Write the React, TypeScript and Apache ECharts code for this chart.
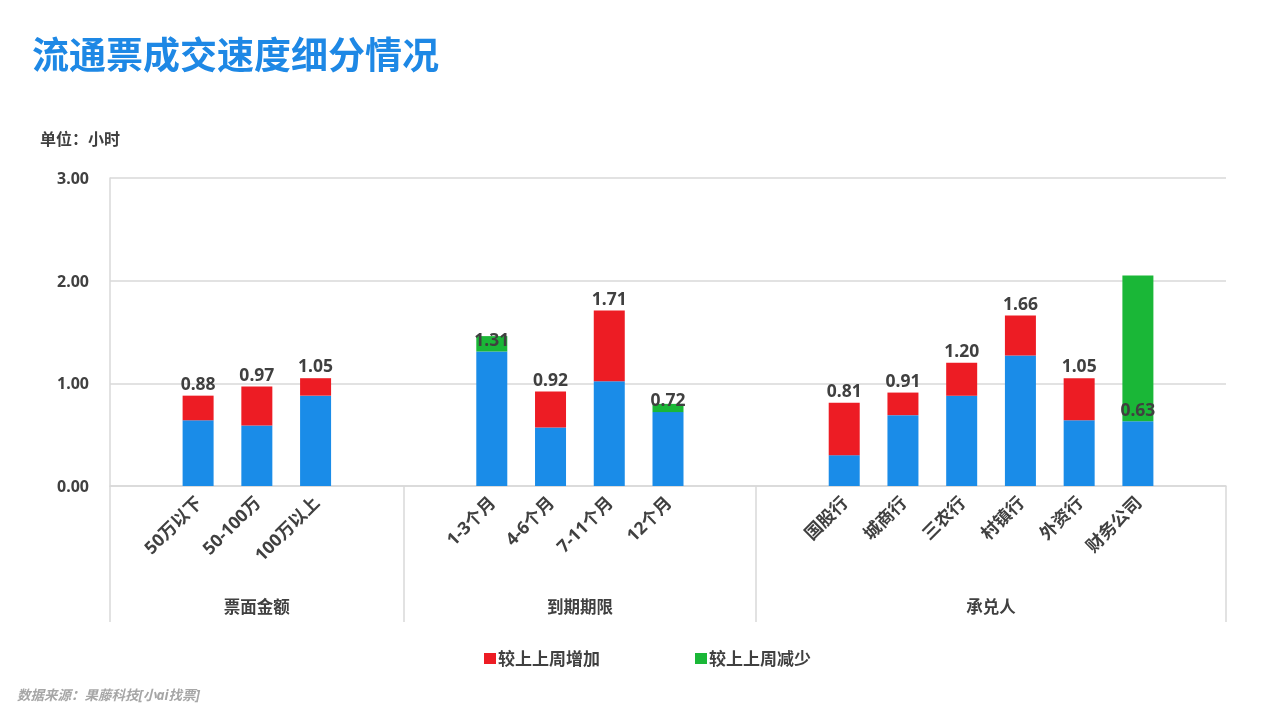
import React, { useEffect, useRef } from "react";
import * as echarts from "echarts";

const groupNames = ["票面金额", "到期期限", "承兑人"];
const amountCats = ["50万以下", "50-100万", "100万以上"];
const termCats = ["1-3个月", "4-6个月", "7-11个月", "12个月"];
const acceptorCats = ["国股行", "城商行", "三农行", "村镇行", "外资行", "财务公司"];

// base (blue) part, increase (red), decrease (green), current value (label)
const baseValues = [0.64, 0.59, 0.88, 1.31, 0.57, 1.02, 0.72, 0.3, 0.69, 0.88, 1.27, 0.64, 0.63];
const increaseValues = [0.24, 0.38, 0.17, null, 0.35, 0.69, null, 0.51, 0.22, 0.32, 0.39, 0.41, null];
const decreaseValues = [null, null, null, 0.15, null, null, 0.08, null, null, null, null, null, 1.42];
const currentValues = [0.88, 0.97, 1.05, 1.31, 0.92, 1.71, 0.72, 0.81, 0.91, 1.2, 1.66, 1.05, 0.63];

const yMin = 0;
const yMax = 3;
const yInterval = 1;

const BLUE = "#1A8CE8";
const RED = "#ED1C24";
const GREEN = "#1AB737";
const TEXT = "#404040";
const LINE = "#D9D9D9";
const FONT = "'Noto Sans', 'Noto Sans CJK SC', sans-serif";

function pad(groups: string[][]) {
  const cats: string[] = [];
  const idx: number[] = [];
  const bounds: number[] = [0];
  let k = 0;
  groups.forEach((g) => {
    cats.push("");
    idx.push(-1);
    g.forEach((c) => {
      cats.push(c);
      idx.push(k++);
    });
    cats.push("");
    idx.push(-1);
    bounds.push(cats.length);
  });
  return { cats, idx, bounds };
}

export default function App() {
  const ref = useRef<HTMLDivElement>(null);
  useEffect(() => {
    if (!ref.current) return;
    const chart = echarts.init(ref.current, null, { renderer: "svg" });
    const { cats, idx, bounds } = pad([amountCats, termCats, acceptorCats]);
    const map = (arr: (number | null)[]) => idx.map((i) => (i < 0 ? null : arr[i]));
    const centers = groupNames.map((_, g) => (bounds[g] + bounds[g + 1]) / 2);
    const barW = 31;

    chart.setOption({
      animation: false,
      textStyle: { fontFamily: FONT },
      title: {
        text: "流通票成交速度细分情况",
        left: 27,
        top: 31,
        textStyle: { color: "#1E88E5", fontSize: 37, fontWeight: "bold", fontFamily: FONT },
      },
      graphic: [
        {
          type: "text",
          left: 40,
          top: 131,
          style: { text: "单位：小时", fill: TEXT, font: `bold 16px ${FONT}` },
        },
        {
          type: "text",
          left: 17,
          top: 688,
          style: { text: "数据来源：果藤科技[小ai找票]", fill: "#A6A6A6", font: `italic bold 13.5px ${FONT}` },
        },
      ],
      legend: {
        data: ["较上上周增加", "较上上周减少"],
        left: 479,
        top: 645,
        icon: "rect",
        itemWidth: 12,
        itemHeight: 11,
        itemGap: 95,
        textStyle: { color: TEXT, fontSize: 17, fontWeight: "bold", fontFamily: FONT, padding: [0, 0, 0, -3] },
      },
      grid: { left: 110, right: 54, top: 178, bottom: 234, containLabel: false },
      xAxis: [
        {
          type: "category",
          data: cats,
          position: "bottom",
          axisLine: { show: true, lineStyle: { color: LINE, width: 1.5 } },
          axisTick: { show: false },
          axisLabel: {
            interval: 0,
            rotate: 45,
            margin: 13,
            color: TEXT,
            fontSize: 17.5,
            fontWeight: "bold",
            fontFamily: FONT,
          },
        },
        {
          type: "value",
          min: 0,
          max: cats.length,
          position: "bottom",
          axisLine: { show: false },
          splitLine: { show: false },
          axisTick: {
            show: true,
            customValues: bounds,
            length: 136,
            lineStyle: { color: LINE, width: 1.5 },
          },
          axisLabel: {
            show: true,
            customValues: centers,
            margin: 112,
            color: TEXT,
            fontSize: 16.5,
            fontWeight: "bold",
            fontFamily: FONT,
            formatter: (v: number) => {
              const g = centers.findIndex((c) => Math.abs(c - v) < 0.01);
              return g >= 0 ? groupNames[g] : "";
            },
          },
        },
      ],
      yAxis: {
        type: "value",
        min: yMin,
        max: yMax,
        interval: yInterval,
        axisLine: { show: true, lineStyle: { color: LINE, width: 1.5 } },
        axisTick: { show: false },
        splitLine: { show: true, lineStyle: { color: LINE, width: 1.5 } },
        axisLabel: {
          margin: 21,
          color: TEXT,
          fontSize: 16,
          fontWeight: "bold",
          fontFamily: FONT,
          formatter: (v: number) => v.toFixed(2),
        },
      },
      series: [
        {
          name: "本周",
          type: "bar",
          stack: "s",
          barWidth: barW,
          data: map(baseValues),
          itemStyle: { color: BLUE },
        },
        {
          name: "较上上周增加",
          type: "bar",
          stack: "s",
          barWidth: barW,
          data: map(increaseValues),
          itemStyle: { color: RED },
        },
        {
          name: "较上上周减少",
          type: "bar",
          stack: "s",
          barWidth: barW,
          data: map(decreaseValues),
          itemStyle: { color: GREEN },
        },
        {
          name: "数值",
          type: "bar",
          barWidth: barW,
          barGap: "-100%",
          z: 10,
          data: map(currentValues),
          itemStyle: { color: "rgba(0,0,0,0)" },
          label: {
            show: true,
            position: "top",
            distance: 4,
            color: TEXT,
            fontSize: 17.5,
            fontWeight: "bold",
            fontFamily: FONT,
            formatter: (p: any) => (p.value == null ? "" : Number(p.value).toFixed(2)),
          },
        },
      ],
    });
    return () => chart.dispose();
  }, []);
  return (
    <div
      ref={ref}
      style={{ position: "fixed", left: 0, top: 0, width: 1280, height: 720 }}
    />
  );
}
